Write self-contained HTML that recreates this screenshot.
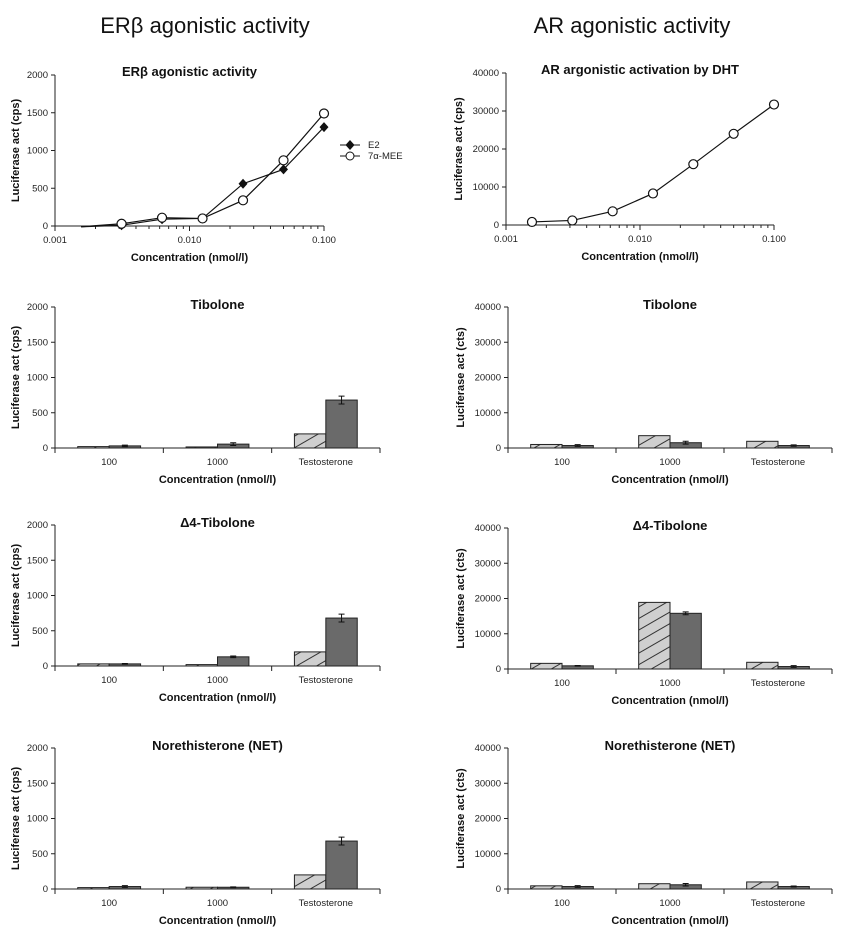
<!DOCTYPE html>
<html><head><meta charset="utf-8"><style>
body{margin:0;background:#fff;}
svg{display:block;font-family:"Liberation Sans",Arial,sans-serif;}
.t{font-size:9.5px;fill:#222}
.b{font-weight:bold;fill:#111}
</style></head><body>
<svg id="fig" width="846" height="939" viewBox="0 0 846 939">
<defs>
<pattern id="hatch" patternUnits="userSpaceOnUse" width="10" height="10" patternTransform="rotate(-30)">
<rect width="10" height="10" fill="#cfcfcf"/><line x1="0" y1="5" x2="10" y2="5" stroke="#333" stroke-width="1"/>
</pattern>
</defs>
<text x="205" y="33" text-anchor="middle" font-size="22" fill="#111">ERβ agonistic activity</text>
<text x="632" y="33" text-anchor="middle" font-size="22" fill="#111">AR agonistic activity</text>
</svg>
<script>
// ---- line chart data ----
const concentrations=[0.0015625,0.003125,0.00625,0.0125,0.025,0.05,0.1];
const e2Values=[-10,10,90,100,560,750,1310];
const meeValues=[-10,30,110,100,340,870,1490];
const dhtValues=[800,1200,3600,8300,16000,24000,31700];
const erTicks=[0,500,1000,1500,2000];
const arTicks=[0,10000,20000,30000,40000];
const logTickLabels=["0.001","0.010","0.100"];
// ---- bar chart data ----
const barCategories=["100","1000","Testosterone"];
const erTibHatched=[20,15,200], erTibSolid=[30,55,680], erTibErr=[10,20,55];
const erD4Hatched=[30,20,200], erD4Solid=[30,130,680], erD4Err=[5,12,55];
const erNetHatched=[20,25,200], erNetSolid=[35,25,680], erNetErr=[12,5,55];
const arTibHatched=[1000,3500,1900], arTibSolid=[700,1500,700], arTibErr=[250,400,200];
const arD4Hatched=[1600,18900,1900], arD4Solid=[900,15800,700], arD4Err=[100,400,250];
const arNetHatched=[900,1500,2000], arNetSolid=[700,1200,700], arNetErr=[250,350,150];

const svg=document.getElementById('fig');
const NS='http://www.w3.org/2000/svg';
function mk(tag,attrs,parent){const e=document.createElementNS(NS,tag);for(const k in attrs)e.setAttribute(k,attrs[k]);(parent||svg).appendChild(e);return e;}
function txt(x,y,s,cls,anchor,parent){const e=mk('text',{x:x,y:y,class:cls,'text-anchor':anchor||'middle'},parent);e.textContent=s;return e;}

function yAxis(g,x0,yTop,yBot,ticks,label,fs){
  const max=ticks[ticks.length-1];
  const ys=v=>yBot-(v/max)*(yBot-yTop);
  mk('line',{x1:x0,y1:yTop,x2:x0,y2:yBot,stroke:'#222','stroke-width':1},g);
  ticks.forEach(t=>{mk('line',{x1:x0-4,y1:ys(t),x2:x0,y2:ys(t),stroke:'#222'},g);
    txt(x0-7,ys(t)+3,String(t),'t','end',g);});
  const yl=txt(0,0,label,'b','middle',g);
  yl.setAttribute('font-size',fs||11);
  yl.setAttribute('transform',`translate(${x0-(max>5000?44:36)},${(yTop+yBot)/2}) rotate(-90)`);
  
  
  return ys;
}

function lineChart(name,x0,x1,yTop,yBot,ticks,title,series){
  const g=mk('g',{});
  
  
  const ys=yAxis(g,x0,yTop,yBot,ticks,'Luciferase act (cps)');
  const dec=(x1-x0)/2;
  const xs=c=>x0+(Math.log10(c)+3)*dec;
  mk('line',{x1:x0,y1:yBot,x2:x1,y2:yBot,stroke:'#222'},g);
  for(let d=0;d<2;d++)for(let m=1;m<=10;m++){const xx=x0+(d+Math.log10(m))*dec;mk('line',{x1:xx,y1:yBot,x2:xx,y2:yBot+(m==1||m==10?5:3),stroke:'#222'},g);}
  logTickLabels.forEach((l,i)=>txt(x0+i*dec,yBot+17,l,'t','middle',g));
  const tt=txt((x0+x1)/2,yTop+1,title,'b','middle',g);tt.setAttribute('font-size',13);
  
  
  const xl=txt((x0+x1)/2,yBot+35,'Concentration (nmol/l)','b','middle',g);xl.setAttribute('font-size',11);
  
  
  series.forEach(s=>{
    const pts=concentrations.map((c,i)=>[xs(c),ys(s.vals[i])]);
    const pl=mk('polyline',{points:pts.map(p=>p.join(',')).join(' '),fill:'none',stroke:'#111','stroke-width':1.2},g);
    
    
    pts.forEach((p,i)=>{if(i==0&&s.skipFirst)return;
      let m;
      if(s.diamond)m=mk('polygon',{points:`${p[0]},${p[1]-5} ${p[0]+4.5},${p[1]} ${p[0]},${p[1]+5} ${p[0]-4.5},${p[1]}`,fill:'#111'},g);
      else m=mk('circle',{cx:p[0],cy:p[1],r:4.5,fill:'#fff',stroke:'#111','stroke-width':1.2},g);
      
      
    });
  });
  return g;
}

const g1=lineChart('er-beta-line-chart',55,324,75,226,erTicks,'ERβ agonistic activity',
 [{name:'e2',vals:e2Values,diamond:true,skipFirst:true},{name:'7a-mee',vals:meeValues,skipFirst:true}]);
const lg=mk('g',{},g1);


mk('line',{x1:340,y1:145,x2:360,y2:145,stroke:'#111'},lg);
mk('polygon',{points:'350,140 354.5,145 350,150 345.5,145',fill:'#111'},lg);
txt(368,148,'E2','t','start',lg).setAttribute('font-size',8);
mk('line',{x1:340,y1:156,x2:360,y2:156,stroke:'#111'},lg);
mk('circle',{cx:350,cy:156,r:4,fill:'#fff',stroke:'#111'},lg);
txt(368,159,'7α-MEE','t','start',lg).setAttribute('font-size',8);

lineChart('ar-line-chart',506,774,73,225,arTicks,'AR argonistic activation by DHT',
 [{name:'dht',vals:dhtValues}]);

function barChart(name,x0,x1,yTop,yBot,ticks,title,hatched,solid,err,unit){
  const g=mk('g',{});
  
  
  const ys=yAxis(g,x0,yTop,yBot,ticks,'Luciferase act ('+unit+')');
  mk('line',{x1:x0,y1:yBot,x2:x1,y2:yBot,stroke:'#222'},g);
  const cw=(x1-x0)/barCategories.length;
  for(let i=0;i<=barCategories.length;i++)mk('line',{x1:x0+i*cw,y1:yBot,x2:x0+i*cw,y2:yBot+5,stroke:'#222'},g);
  const bw=cw*0.29;
  barCategories.forEach((c,i)=>{
    const cx=x0+(i+0.5)*cw;
    txt(cx,yBot+17,c,'t','middle',g);
    const h=mk('rect',{x:cx-bw,y:ys(hatched[i]),width:bw,height:Math.max(1,yBot-ys(hatched[i])),fill:'url(#hatch)',stroke:'#222','stroke-width':1},g);
    
    
    const s=mk('rect',{x:cx,y:ys(solid[i]),width:bw,height:Math.max(1,yBot-ys(solid[i])),fill:'#6a6a6a',stroke:'#222','stroke-width':1},g);
    
    
    const ex=cx+bw/2,et=ys(solid[i]+err[i]),eb=ys(solid[i]-err[i]);
    const eg=mk('path',{d:`M${ex},${et}V${eb}M${ex-3},${et}H${ex+3}M${ex-3},${eb}H${ex+3}`,stroke:'#111',fill:'none'},g);
    
    
  });
  const tt=txt((x0+x1)/2,yTop+2,title,'b','middle',g);tt.setAttribute('font-size',13);
  
  
  const xl=txt((x0+x1)/2,yBot+35,'Concentration (nmol/l)','b','middle',g);xl.setAttribute('font-size',11);
  
  
}
barChart('er-tibolone-bar-chart',55,380,307,448,erTicks,'Tibolone',erTibHatched,erTibSolid,erTibErr,'cps');
barChart('er-d4-tibolone-bar-chart',55,380,525,666,erTicks,'Δ4-Tibolone',erD4Hatched,erD4Solid,erD4Err,'cps');
barChart('er-net-bar-chart',55,380,748,889,erTicks,'Norethisterone (NET)',erNetHatched,erNetSolid,erNetErr,'cps');
barChart('ar-tibolone-bar-chart',508,832,307,448,arTicks,'Tibolone',arTibHatched,arTibSolid,arTibErr,'cts');
barChart('ar-d4-tibolone-bar-chart',508,832,528,669,arTicks,'Δ4-Tibolone',arD4Hatched,arD4Solid,arD4Err,'cts');
barChart('ar-net-bar-chart',508,832,748,889,arTicks,'Norethisterone (NET)',arNetHatched,arNetSolid,arNetErr,'cts');
</script>
</body></html>
